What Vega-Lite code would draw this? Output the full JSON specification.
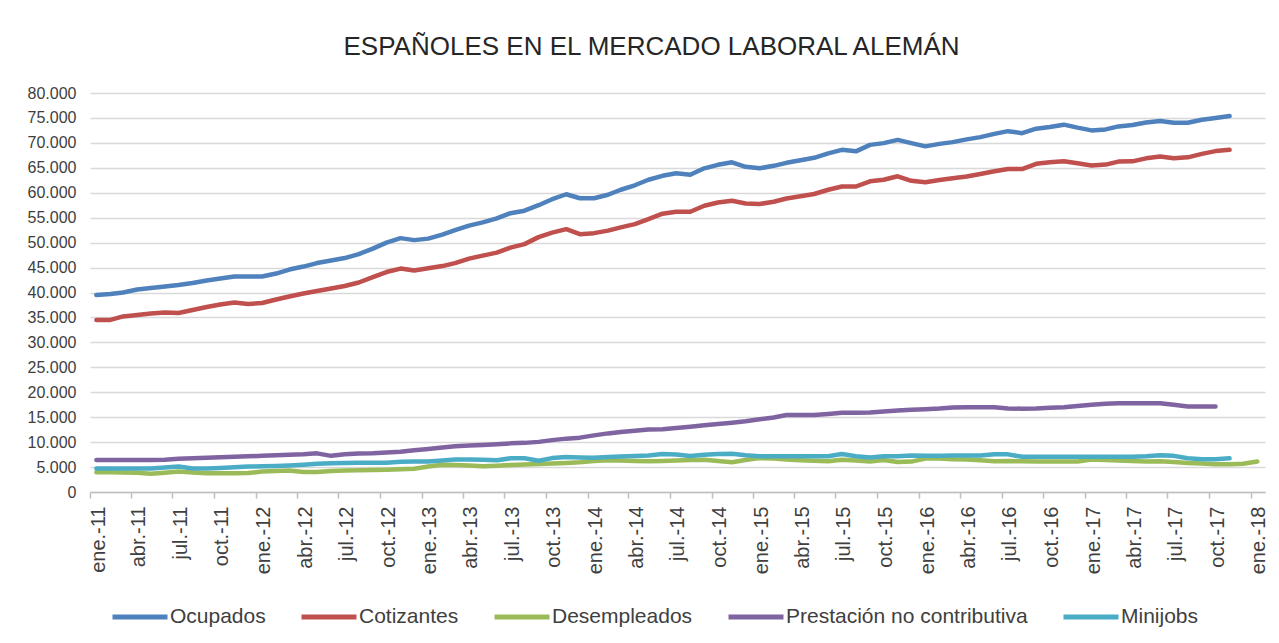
{
  "$schema": "https://vega.github.io/schema/vega-lite/v6.json",
  "width": 1175,
  "height": 399,
  "autosize": {"type": "none"},
  "padding": {"left": 90, "top": 93, "right": 14, "bottom": 151},
  "background": "white",
  "title": {"text": "ESPAÑOLES EN EL MERCADO LABORAL ALEMÁN", "fontSize": 26, "font": "Liberation Sans", "fontWeight": "normal", "color": "#262626", "anchor": "middle", "dx": -26, "offset": 25},
  "config": {"view": {"stroke": null}},
  "data": {
    "format": {"parse": {"mes": "utc:'%Y-%m-%d'"}},
    "values": [
      {"mes":"2011-01-15","serie":"Ocupados","valor":39500},{"mes":"2011-02-15","serie":"Ocupados","valor":39700},{"mes":"2011-03-15","serie":"Ocupados","valor":40000},{"mes":"2011-04-15","serie":"Ocupados","valor":40600},{"mes":"2011-05-15","serie":"Ocupados","valor":40900},{"mes":"2011-06-15","serie":"Ocupados","valor":41200},{"mes":"2011-07-15","serie":"Ocupados","valor":41500},{"mes":"2011-08-15","serie":"Ocupados","valor":41900},{"mes":"2011-09-15","serie":"Ocupados","valor":42400},{"mes":"2011-10-15","serie":"Ocupados","valor":42800},{"mes":"2011-11-15","serie":"Ocupados","valor":43200},{"mes":"2011-12-15","serie":"Ocupados","valor":43200},
      {"mes":"2012-01-15","serie":"Ocupados","valor":43200},{"mes":"2012-02-15","serie":"Ocupados","valor":43800},{"mes":"2012-03-15","serie":"Ocupados","valor":44600},{"mes":"2012-04-15","serie":"Ocupados","valor":45200},{"mes":"2012-05-15","serie":"Ocupados","valor":45900},{"mes":"2012-06-15","serie":"Ocupados","valor":46400},{"mes":"2012-07-15","serie":"Ocupados","valor":46900},{"mes":"2012-08-15","serie":"Ocupados","valor":47700},{"mes":"2012-09-15","serie":"Ocupados","valor":48800},{"mes":"2012-10-15","serie":"Ocupados","valor":50000},{"mes":"2012-11-15","serie":"Ocupados","valor":50900},{"mes":"2012-12-15","serie":"Ocupados","valor":50500},
      {"mes":"2013-01-15","serie":"Ocupados","valor":50800},{"mes":"2013-02-15","serie":"Ocupados","valor":51600},{"mes":"2013-03-15","serie":"Ocupados","valor":52500},{"mes":"2013-04-15","serie":"Ocupados","valor":53400},{"mes":"2013-05-15","serie":"Ocupados","valor":54050},{"mes":"2013-06-15","serie":"Ocupados","valor":54850},{"mes":"2013-07-15","serie":"Ocupados","valor":55900},{"mes":"2013-08-15","serie":"Ocupados","valor":56400},{"mes":"2013-09-15","serie":"Ocupados","valor":57500},{"mes":"2013-10-15","serie":"Ocupados","valor":58700},{"mes":"2013-11-15","serie":"Ocupados","valor":59700},{"mes":"2013-12-15","serie":"Ocupados","valor":58900},
      {"mes":"2014-01-15","serie":"Ocupados","valor":58900},{"mes":"2014-02-15","serie":"Ocupados","valor":59600},{"mes":"2014-03-15","serie":"Ocupados","valor":60600},{"mes":"2014-04-15","serie":"Ocupados","valor":61500},{"mes":"2014-05-15","serie":"Ocupados","valor":62600},{"mes":"2014-06-15","serie":"Ocupados","valor":63400},{"mes":"2014-07-15","serie":"Ocupados","valor":63900},{"mes":"2014-08-15","serie":"Ocupados","valor":63600},{"mes":"2014-09-15","serie":"Ocupados","valor":64900},{"mes":"2014-10-15","serie":"Ocupados","valor":65600},{"mes":"2014-11-15","serie":"Ocupados","valor":66100},{"mes":"2014-12-15","serie":"Ocupados","valor":65200},
      {"mes":"2015-01-15","serie":"Ocupados","valor":64900},{"mes":"2015-02-15","serie":"Ocupados","valor":65400},{"mes":"2015-03-15","serie":"Ocupados","valor":66000},{"mes":"2015-04-15","serie":"Ocupados","valor":66500},{"mes":"2015-05-15","serie":"Ocupados","valor":67000},{"mes":"2015-06-15","serie":"Ocupados","valor":67900},{"mes":"2015-07-15","serie":"Ocupados","valor":68600},{"mes":"2015-08-15","serie":"Ocupados","valor":68300},{"mes":"2015-09-15","serie":"Ocupados","valor":69600},{"mes":"2015-10-15","serie":"Ocupados","valor":69950},{"mes":"2015-11-15","serie":"Ocupados","valor":70600},{"mes":"2015-12-15","serie":"Ocupados","valor":69950},
      {"mes":"2016-01-15","serie":"Ocupados","valor":69300},{"mes":"2016-02-15","serie":"Ocupados","valor":69800},{"mes":"2016-03-15","serie":"Ocupados","valor":70150},{"mes":"2016-04-15","serie":"Ocupados","valor":70700},{"mes":"2016-05-15","serie":"Ocupados","valor":71150},{"mes":"2016-06-15","serie":"Ocupados","valor":71800},{"mes":"2016-07-15","serie":"Ocupados","valor":72350},{"mes":"2016-08-15","serie":"Ocupados","valor":71950},{"mes":"2016-09-15","serie":"Ocupados","valor":72850},{"mes":"2016-10-15","serie":"Ocupados","valor":73200},{"mes":"2016-11-15","serie":"Ocupados","valor":73650},{"mes":"2016-12-15","serie":"Ocupados","valor":73050},
      {"mes":"2017-01-15","serie":"Ocupados","valor":72500},{"mes":"2017-02-15","serie":"Ocupados","valor":72700},{"mes":"2017-03-15","serie":"Ocupados","valor":73300},{"mes":"2017-04-15","serie":"Ocupados","valor":73600},{"mes":"2017-05-15","serie":"Ocupados","valor":74100},{"mes":"2017-06-15","serie":"Ocupados","valor":74400},{"mes":"2017-07-15","serie":"Ocupados","valor":74050},{"mes":"2017-08-15","serie":"Ocupados","valor":74050},{"mes":"2017-09-15","serie":"Ocupados","valor":74650},{"mes":"2017-10-15","serie":"Ocupados","valor":75000},{"mes":"2017-11-15","serie":"Ocupados","valor":75400},

      {"mes":"2011-01-15","serie":"Cotizantes","valor":34500},{"mes":"2011-02-15","serie":"Cotizantes","valor":34500},{"mes":"2011-03-15","serie":"Cotizantes","valor":35200},{"mes":"2011-04-15","serie":"Cotizantes","valor":35500},{"mes":"2011-05-15","serie":"Cotizantes","valor":35800},{"mes":"2011-06-15","serie":"Cotizantes","valor":36000},{"mes":"2011-07-15","serie":"Cotizantes","valor":35900},{"mes":"2011-08-15","serie":"Cotizantes","valor":36500},{"mes":"2011-09-15","serie":"Cotizantes","valor":37100},{"mes":"2011-10-15","serie":"Cotizantes","valor":37600},{"mes":"2011-11-15","serie":"Cotizantes","valor":38000},{"mes":"2011-12-15","serie":"Cotizantes","valor":37700},
      {"mes":"2012-01-15","serie":"Cotizantes","valor":37900},{"mes":"2012-02-15","serie":"Cotizantes","valor":38600},{"mes":"2012-03-15","serie":"Cotizantes","valor":39200},{"mes":"2012-04-15","serie":"Cotizantes","valor":39800},{"mes":"2012-05-15","serie":"Cotizantes","valor":40300},{"mes":"2012-06-15","serie":"Cotizantes","valor":40800},{"mes":"2012-07-15","serie":"Cotizantes","valor":41300},{"mes":"2012-08-15","serie":"Cotizantes","valor":42000},{"mes":"2012-09-15","serie":"Cotizantes","valor":43100},{"mes":"2012-10-15","serie":"Cotizantes","valor":44100},{"mes":"2012-11-15","serie":"Cotizantes","valor":44800},{"mes":"2012-12-15","serie":"Cotizantes","valor":44400},
      {"mes":"2013-01-15","serie":"Cotizantes","valor":44850},{"mes":"2013-02-15","serie":"Cotizantes","valor":45300},{"mes":"2013-03-15","serie":"Cotizantes","valor":45900},{"mes":"2013-04-15","serie":"Cotizantes","valor":46800},{"mes":"2013-05-15","serie":"Cotizantes","valor":47400},{"mes":"2013-06-15","serie":"Cotizantes","valor":48000},{"mes":"2013-07-15","serie":"Cotizantes","valor":49000},{"mes":"2013-08-15","serie":"Cotizantes","valor":49700},{"mes":"2013-09-15","serie":"Cotizantes","valor":51100},{"mes":"2013-10-15","serie":"Cotizantes","valor":52000},{"mes":"2013-11-15","serie":"Cotizantes","valor":52700},{"mes":"2013-12-15","serie":"Cotizantes","valor":51700},
      {"mes":"2014-01-15","serie":"Cotizantes","valor":51900},{"mes":"2014-02-15","serie":"Cotizantes","valor":52400},{"mes":"2014-03-15","serie":"Cotizantes","valor":53050},{"mes":"2014-04-15","serie":"Cotizantes","valor":53700},{"mes":"2014-05-15","serie":"Cotizantes","valor":54700},{"mes":"2014-06-15","serie":"Cotizantes","valor":55800},{"mes":"2014-07-15","serie":"Cotizantes","valor":56200},{"mes":"2014-08-15","serie":"Cotizantes","valor":56200},{"mes":"2014-09-15","serie":"Cotizantes","valor":57400},{"mes":"2014-10-15","serie":"Cotizantes","valor":58050},{"mes":"2014-11-15","serie":"Cotizantes","valor":58400},{"mes":"2014-12-15","serie":"Cotizantes","valor":57850},
      {"mes":"2015-01-15","serie":"Cotizantes","valor":57750},{"mes":"2015-02-15","serie":"Cotizantes","valor":58200},{"mes":"2015-03-15","serie":"Cotizantes","valor":58850},{"mes":"2015-04-15","serie":"Cotizantes","valor":59300},{"mes":"2015-05-15","serie":"Cotizantes","valor":59750},{"mes":"2015-06-15","serie":"Cotizantes","valor":60600},{"mes":"2015-07-15","serie":"Cotizantes","valor":61250},{"mes":"2015-08-15","serie":"Cotizantes","valor":61250},{"mes":"2015-09-15","serie":"Cotizantes","valor":62300},{"mes":"2015-10-15","serie":"Cotizantes","valor":62600},{"mes":"2015-11-15","serie":"Cotizantes","valor":63300},{"mes":"2015-12-15","serie":"Cotizantes","valor":62400},
      {"mes":"2016-01-15","serie":"Cotizantes","valor":62100},{"mes":"2016-02-15","serie":"Cotizantes","valor":62550},{"mes":"2016-03-15","serie":"Cotizantes","valor":62900},{"mes":"2016-04-15","serie":"Cotizantes","valor":63250},{"mes":"2016-05-15","serie":"Cotizantes","valor":63750},{"mes":"2016-06-15","serie":"Cotizantes","valor":64300},{"mes":"2016-07-15","serie":"Cotizantes","valor":64750},{"mes":"2016-08-15","serie":"Cotizantes","valor":64750},{"mes":"2016-09-15","serie":"Cotizantes","valor":65800},{"mes":"2016-10-15","serie":"Cotizantes","valor":66100},{"mes":"2016-11-15","serie":"Cotizantes","valor":66300},{"mes":"2016-12-15","serie":"Cotizantes","valor":65900},
      {"mes":"2017-01-15","serie":"Cotizantes","valor":65450},{"mes":"2017-02-15","serie":"Cotizantes","valor":65650},{"mes":"2017-03-15","serie":"Cotizantes","valor":66250},{"mes":"2017-04-15","serie":"Cotizantes","valor":66300},{"mes":"2017-05-15","serie":"Cotizantes","valor":66900},{"mes":"2017-06-15","serie":"Cotizantes","valor":67250},{"mes":"2017-07-15","serie":"Cotizantes","valor":66900},{"mes":"2017-08-15","serie":"Cotizantes","valor":67100},{"mes":"2017-09-15","serie":"Cotizantes","valor":67800},{"mes":"2017-10-15","serie":"Cotizantes","valor":68350},{"mes":"2017-11-15","serie":"Cotizantes","valor":68600},

      {"mes":"2011-01-15","serie":"Desempleados","valor":3950},{"mes":"2011-02-15","serie":"Desempleados","valor":3950},{"mes":"2011-03-15","serie":"Desempleados","valor":3900},{"mes":"2011-04-15","serie":"Desempleados","valor":3850},{"mes":"2011-05-15","serie":"Desempleados","valor":3650},{"mes":"2011-06-15","serie":"Desempleados","valor":3850},{"mes":"2011-07-15","serie":"Desempleados","valor":4100},{"mes":"2011-08-15","serie":"Desempleados","valor":3900},{"mes":"2011-09-15","serie":"Desempleados","valor":3750},{"mes":"2011-10-15","serie":"Desempleados","valor":3750},{"mes":"2011-11-15","serie":"Desempleados","valor":3750},{"mes":"2011-12-15","serie":"Desempleados","valor":3800},
      {"mes":"2012-01-15","serie":"Desempleados","valor":4100},{"mes":"2012-02-15","serie":"Desempleados","valor":4200},{"mes":"2012-03-15","serie":"Desempleados","valor":4300},{"mes":"2012-04-15","serie":"Desempleados","valor":4000},{"mes":"2012-05-15","serie":"Desempleados","valor":4000},{"mes":"2012-06-15","serie":"Desempleados","valor":4200},{"mes":"2012-07-15","serie":"Desempleados","valor":4300},{"mes":"2012-08-15","serie":"Desempleados","valor":4350},{"mes":"2012-09-15","serie":"Desempleados","valor":4400},{"mes":"2012-10-15","serie":"Desempleados","valor":4450},{"mes":"2012-11-15","serie":"Desempleados","valor":4550},{"mes":"2012-12-15","serie":"Desempleados","valor":4650},
      {"mes":"2013-01-15","serie":"Desempleados","valor":5100},{"mes":"2013-02-15","serie":"Desempleados","valor":5450},{"mes":"2013-03-15","serie":"Desempleados","valor":5400},{"mes":"2013-04-15","serie":"Desempleados","valor":5300},{"mes":"2013-05-15","serie":"Desempleados","valor":5150},{"mes":"2013-06-15","serie":"Desempleados","valor":5250},{"mes":"2013-07-15","serie":"Desempleados","valor":5400},{"mes":"2013-08-15","serie":"Desempleados","valor":5500},{"mes":"2013-09-15","serie":"Desempleados","valor":5600},{"mes":"2013-10-15","serie":"Desempleados","valor":5700},{"mes":"2013-11-15","serie":"Desempleados","valor":5800},{"mes":"2013-12-15","serie":"Desempleados","valor":5950},
      {"mes":"2014-01-15","serie":"Desempleados","valor":6200},{"mes":"2014-02-15","serie":"Desempleados","valor":6350},{"mes":"2014-03-15","serie":"Desempleados","valor":6300},{"mes":"2014-04-15","serie":"Desempleados","valor":6200},{"mes":"2014-05-15","serie":"Desempleados","valor":6150},{"mes":"2014-06-15","serie":"Desempleados","valor":6200},{"mes":"2014-07-15","serie":"Desempleados","valor":6300},{"mes":"2014-08-15","serie":"Desempleados","valor":6400},{"mes":"2014-09-15","serie":"Desempleados","valor":6450},{"mes":"2014-10-15","serie":"Desempleados","valor":6200},{"mes":"2014-11-15","serie":"Desempleados","valor":5950},{"mes":"2014-12-15","serie":"Desempleados","valor":6400},
      {"mes":"2015-01-15","serie":"Desempleados","valor":6800},{"mes":"2015-02-15","serie":"Desempleados","valor":6700},{"mes":"2015-03-15","serie":"Desempleados","valor":6500},{"mes":"2015-04-15","serie":"Desempleados","valor":6350},{"mes":"2015-05-15","serie":"Desempleados","valor":6250},{"mes":"2015-06-15","serie":"Desempleados","valor":6150},{"mes":"2015-07-15","serie":"Desempleados","valor":6450},{"mes":"2015-08-15","serie":"Desempleados","valor":6300},{"mes":"2015-09-15","serie":"Desempleados","valor":6100},{"mes":"2015-10-15","serie":"Desempleados","valor":6400},{"mes":"2015-11-15","serie":"Desempleados","valor":6000},{"mes":"2015-12-15","serie":"Desempleados","valor":6100},
      {"mes":"2016-01-15","serie":"Desempleados","valor":6700},{"mes":"2016-02-15","serie":"Desempleados","valor":6700},{"mes":"2016-03-15","serie":"Desempleados","valor":6550},{"mes":"2016-04-15","serie":"Desempleados","valor":6500},{"mes":"2016-05-15","serie":"Desempleados","valor":6350},{"mes":"2016-06-15","serie":"Desempleados","valor":6150},{"mes":"2016-07-15","serie":"Desempleados","valor":6200},{"mes":"2016-08-15","serie":"Desempleados","valor":6150},{"mes":"2016-09-15","serie":"Desempleados","valor":6100},{"mes":"2016-10-15","serie":"Desempleados","valor":6100},{"mes":"2016-11-15","serie":"Desempleados","valor":6100},{"mes":"2016-12-15","serie":"Desempleados","valor":6100},
      {"mes":"2017-01-15","serie":"Desempleados","valor":6500},{"mes":"2017-02-15","serie":"Desempleados","valor":6400},{"mes":"2017-03-15","serie":"Desempleados","valor":6300},{"mes":"2017-04-15","serie":"Desempleados","valor":6200},{"mes":"2017-05-15","serie":"Desempleados","valor":6100},{"mes":"2017-06-15","serie":"Desempleados","valor":6150},{"mes":"2017-07-15","serie":"Desempleados","valor":6000},{"mes":"2017-08-15","serie":"Desempleados","valor":5800},{"mes":"2017-09-15","serie":"Desempleados","valor":5700},{"mes":"2017-10-15","serie":"Desempleados","valor":5550},{"mes":"2017-11-15","serie":"Desempleados","valor":5550},{"mes":"2017-12-15","serie":"Desempleados","valor":5650},{"mes":"2018-01-15","serie":"Desempleados","valor":6100},

      {"mes":"2011-01-15","serie":"Prestación no contributiva","valor":6400},{"mes":"2011-02-15","serie":"Prestación no contributiva","valor":6400},{"mes":"2011-03-15","serie":"Prestación no contributiva","valor":6400},{"mes":"2011-04-15","serie":"Prestación no contributiva","valor":6400},{"mes":"2011-05-15","serie":"Prestación no contributiva","valor":6400},{"mes":"2011-06-15","serie":"Prestación no contributiva","valor":6450},{"mes":"2011-07-15","serie":"Prestación no contributiva","valor":6650},{"mes":"2011-08-15","serie":"Prestación no contributiva","valor":6750},{"mes":"2011-09-15","serie":"Prestación no contributiva","valor":6850},{"mes":"2011-10-15","serie":"Prestación no contributiva","valor":6950},{"mes":"2011-11-15","serie":"Prestación no contributiva","valor":7050},{"mes":"2011-12-15","serie":"Prestación no contributiva","valor":7150},
      {"mes":"2012-01-15","serie":"Prestación no contributiva","valor":7250},{"mes":"2012-02-15","serie":"Prestación no contributiva","valor":7350},{"mes":"2012-03-15","serie":"Prestación no contributiva","valor":7450},{"mes":"2012-04-15","serie":"Prestación no contributiva","valor":7550},{"mes":"2012-05-15","serie":"Prestación no contributiva","valor":7750},{"mes":"2012-06-15","serie":"Prestación no contributiva","valor":7250},{"mes":"2012-07-15","serie":"Prestación no contributiva","valor":7550},{"mes":"2012-08-15","serie":"Prestación no contributiva","valor":7700},{"mes":"2012-09-15","serie":"Prestación no contributiva","valor":7750},{"mes":"2012-10-15","serie":"Prestación no contributiva","valor":7900},{"mes":"2012-11-15","serie":"Prestación no contributiva","valor":8050},{"mes":"2012-12-15","serie":"Prestación no contributiva","valor":8350},
      {"mes":"2013-01-15","serie":"Prestación no contributiva","valor":8600},{"mes":"2013-02-15","serie":"Prestación no contributiva","valor":8900},{"mes":"2013-03-15","serie":"Prestación no contributiva","valor":9150},{"mes":"2013-04-15","serie":"Prestación no contributiva","valor":9300},{"mes":"2013-05-15","serie":"Prestación no contributiva","valor":9400},{"mes":"2013-06-15","serie":"Prestación no contributiva","valor":9550},{"mes":"2013-07-15","serie":"Prestación no contributiva","valor":9750},{"mes":"2013-08-15","serie":"Prestación no contributiva","valor":9850},{"mes":"2013-09-15","serie":"Prestación no contributiva","valor":10050},{"mes":"2013-10-15","serie":"Prestación no contributiva","valor":10400},{"mes":"2013-11-15","serie":"Prestación no contributiva","valor":10700},{"mes":"2013-12-15","serie":"Prestación no contributiva","valor":10900},
      {"mes":"2014-01-15","serie":"Prestación no contributiva","valor":11350},{"mes":"2014-02-15","serie":"Prestación no contributiva","valor":11750},{"mes":"2014-03-15","serie":"Prestación no contributiva","valor":12050},{"mes":"2014-04-15","serie":"Prestación no contributiva","valor":12300},{"mes":"2014-05-15","serie":"Prestación no contributiva","valor":12550},{"mes":"2014-06-15","serie":"Prestación no contributiva","valor":12600},{"mes":"2014-07-15","serie":"Prestación no contributiva","valor":12850},{"mes":"2014-08-15","serie":"Prestación no contributiva","valor":13100},{"mes":"2014-09-15","serie":"Prestación no contributiva","valor":13400},{"mes":"2014-10-15","serie":"Prestación no contributiva","valor":13650},{"mes":"2014-11-15","serie":"Prestación no contributiva","valor":13900},{"mes":"2014-12-15","serie":"Prestación no contributiva","valor":14200},
      {"mes":"2015-01-15","serie":"Prestación no contributiva","valor":14600},{"mes":"2015-02-15","serie":"Prestación no contributiva","valor":14950},{"mes":"2015-03-15","serie":"Prestación no contributiva","valor":15450},{"mes":"2015-04-15","serie":"Prestación no contributiva","valor":15450},{"mes":"2015-05-15","serie":"Prestación no contributiva","valor":15450},{"mes":"2015-06-15","serie":"Prestación no contributiva","valor":15650},{"mes":"2015-07-15","serie":"Prestación no contributiva","valor":15900},{"mes":"2015-08-15","serie":"Prestación no contributiva","valor":15900},{"mes":"2015-09-15","serie":"Prestación no contributiva","valor":15950},{"mes":"2015-10-15","serie":"Prestación no contributiva","valor":16150},{"mes":"2015-11-15","serie":"Prestación no contributiva","valor":16350},{"mes":"2015-12-15","serie":"Prestación no contributiva","valor":16500},
      {"mes":"2016-01-15","serie":"Prestación no contributiva","valor":16600},{"mes":"2016-02-15","serie":"Prestación no contributiva","valor":16750},{"mes":"2016-03-15","serie":"Prestación no contributiva","valor":16950},{"mes":"2016-04-15","serie":"Prestación no contributiva","valor":17000},{"mes":"2016-05-15","serie":"Prestación no contributiva","valor":17000},{"mes":"2016-06-15","serie":"Prestación no contributiva","valor":17000},{"mes":"2016-07-15","serie":"Prestación no contributiva","valor":16750},{"mes":"2016-08-15","serie":"Prestación no contributiva","valor":16700},{"mes":"2016-09-15","serie":"Prestación no contributiva","valor":16750},{"mes":"2016-10-15","serie":"Prestación no contributiva","valor":16900},{"mes":"2016-11-15","serie":"Prestación no contributiva","valor":17000},{"mes":"2016-12-15","serie":"Prestación no contributiva","valor":17250},
      {"mes":"2017-01-15","serie":"Prestación no contributiva","valor":17500},{"mes":"2017-02-15","serie":"Prestación no contributiva","valor":17700},{"mes":"2017-03-15","serie":"Prestación no contributiva","valor":17800},{"mes":"2017-04-15","serie":"Prestación no contributiva","valor":17800},{"mes":"2017-05-15","serie":"Prestación no contributiva","valor":17800},{"mes":"2017-06-15","serie":"Prestación no contributiva","valor":17800},{"mes":"2017-07-15","serie":"Prestación no contributiva","valor":17500},{"mes":"2017-08-15","serie":"Prestación no contributiva","valor":17150},{"mes":"2017-09-15","serie":"Prestación no contributiva","valor":17150},{"mes":"2017-10-15","serie":"Prestación no contributiva","valor":17150},

      {"mes":"2011-01-15","serie":"Minijobs","valor":4700},{"mes":"2011-02-15","serie":"Minijobs","valor":4700},{"mes":"2011-03-15","serie":"Minijobs","valor":4700},{"mes":"2011-04-15","serie":"Minijobs","valor":4700},{"mes":"2011-05-15","serie":"Minijobs","valor":4700},{"mes":"2011-06-15","serie":"Minijobs","valor":4900},{"mes":"2011-07-15","serie":"Minijobs","valor":5100},{"mes":"2011-08-15","serie":"Minijobs","valor":4700},{"mes":"2011-09-15","serie":"Minijobs","valor":4700},{"mes":"2011-10-15","serie":"Minijobs","valor":4800},{"mes":"2011-11-15","serie":"Minijobs","valor":4950},{"mes":"2011-12-15","serie":"Minijobs","valor":5100},
      {"mes":"2012-01-15","serie":"Minijobs","valor":5150},{"mes":"2012-02-15","serie":"Minijobs","valor":5200},{"mes":"2012-03-15","serie":"Minijobs","valor":5300},{"mes":"2012-04-15","serie":"Minijobs","valor":5450},{"mes":"2012-05-15","serie":"Minijobs","valor":5650},{"mes":"2012-06-15","serie":"Minijobs","valor":5750},{"mes":"2012-07-15","serie":"Minijobs","valor":5800},{"mes":"2012-08-15","serie":"Minijobs","valor":5850},{"mes":"2012-09-15","serie":"Minijobs","valor":5850},{"mes":"2012-10-15","serie":"Minijobs","valor":5850},{"mes":"2012-11-15","serie":"Minijobs","valor":6050},{"mes":"2012-12-15","serie":"Minijobs","valor":6100},
      {"mes":"2013-01-15","serie":"Minijobs","valor":6100},{"mes":"2013-02-15","serie":"Minijobs","valor":6300},{"mes":"2013-03-15","serie":"Minijobs","valor":6500},{"mes":"2013-04-15","serie":"Minijobs","valor":6500},{"mes":"2013-05-15","serie":"Minijobs","valor":6450},{"mes":"2013-06-15","serie":"Minijobs","valor":6350},{"mes":"2013-07-15","serie":"Minijobs","valor":6750},{"mes":"2013-08-15","serie":"Minijobs","valor":6750},{"mes":"2013-09-15","serie":"Minijobs","valor":6250},{"mes":"2013-10-15","serie":"Minijobs","valor":6800},{"mes":"2013-11-15","serie":"Minijobs","valor":7000},{"mes":"2013-12-15","serie":"Minijobs","valor":6900},
      {"mes":"2014-01-15","serie":"Minijobs","valor":6850},{"mes":"2014-02-15","serie":"Minijobs","valor":7000},{"mes":"2014-03-15","serie":"Minijobs","valor":7100},{"mes":"2014-04-15","serie":"Minijobs","valor":7200},{"mes":"2014-05-15","serie":"Minijobs","valor":7300},{"mes":"2014-06-15","serie":"Minijobs","valor":7600},{"mes":"2014-07-15","serie":"Minijobs","valor":7500},{"mes":"2014-08-15","serie":"Minijobs","valor":7200},{"mes":"2014-09-15","serie":"Minijobs","valor":7450},{"mes":"2014-10-15","serie":"Minijobs","valor":7600},{"mes":"2014-11-15","serie":"Minijobs","valor":7650},{"mes":"2014-12-15","serie":"Minijobs","valor":7350},
      {"mes":"2015-01-15","serie":"Minijobs","valor":7150},{"mes":"2015-02-15","serie":"Minijobs","valor":7150},{"mes":"2015-03-15","serie":"Minijobs","valor":7150},{"mes":"2015-04-15","serie":"Minijobs","valor":7150},{"mes":"2015-05-15","serie":"Minijobs","valor":7150},{"mes":"2015-06-15","serie":"Minijobs","valor":7150},{"mes":"2015-07-15","serie":"Minijobs","valor":7600},{"mes":"2015-08-15","serie":"Minijobs","valor":7150},{"mes":"2015-09-15","serie":"Minijobs","valor":6900},{"mes":"2015-10-15","serie":"Minijobs","valor":7150},{"mes":"2015-11-15","serie":"Minijobs","valor":7150},{"mes":"2015-12-15","serie":"Minijobs","valor":7300},
      {"mes":"2016-01-15","serie":"Minijobs","valor":7250},{"mes":"2016-02-15","serie":"Minijobs","valor":7250},{"mes":"2016-03-15","serie":"Minijobs","valor":7300},{"mes":"2016-04-15","serie":"Minijobs","valor":7300},{"mes":"2016-05-15","serie":"Minijobs","valor":7300},{"mes":"2016-06-15","serie":"Minijobs","valor":7550},{"mes":"2016-07-15","serie":"Minijobs","valor":7550},{"mes":"2016-08-15","serie":"Minijobs","valor":7050},{"mes":"2016-09-15","serie":"Minijobs","valor":7050},{"mes":"2016-10-15","serie":"Minijobs","valor":7050},{"mes":"2016-11-15","serie":"Minijobs","valor":7050},{"mes":"2016-12-15","serie":"Minijobs","valor":7050},
      {"mes":"2017-01-15","serie":"Minijobs","valor":7050},{"mes":"2017-02-15","serie":"Minijobs","valor":7050},{"mes":"2017-03-15","serie":"Minijobs","valor":7050},{"mes":"2017-04-15","serie":"Minijobs","valor":7050},{"mes":"2017-05-15","serie":"Minijobs","valor":7150},{"mes":"2017-06-15","serie":"Minijobs","valor":7350},{"mes":"2017-07-15","serie":"Minijobs","valor":7250},{"mes":"2017-08-15","serie":"Minijobs","valor":6750},{"mes":"2017-09-15","serie":"Minijobs","valor":6550},{"mes":"2017-10-15","serie":"Minijobs","valor":6550},{"mes":"2017-11-15","serie":"Minijobs","valor":6750}
    ]
  },
  "mark": {"type": "line", "strokeWidth": 4.5, "strokeCap": "round", "strokeJoin": "round"},
  "encoding": {
    "x": {
      "field": "mes", "type": "temporal",
      "scale": {"type": "utc", "domain": [{"year": 2011, "month": 1, "date": 1, "utc": true}, {"year": 2018, "month": 2, "date": 1, "utc": true}]},
      "axis": {
        "title": null, "grid": false,
        "values": [
          {"year":2011,"month":1,"date":1,"utc":true},{"year":2011,"month":4,"date":1,"utc":true},{"year":2011,"month":7,"date":1,"utc":true},{"year":2011,"month":10,"date":1,"utc":true},
          {"year":2012,"month":1,"date":1,"utc":true},{"year":2012,"month":4,"date":1,"utc":true},{"year":2012,"month":7,"date":1,"utc":true},{"year":2012,"month":10,"date":1,"utc":true},
          {"year":2013,"month":1,"date":1,"utc":true},{"year":2013,"month":4,"date":1,"utc":true},{"year":2013,"month":7,"date":1,"utc":true},{"year":2013,"month":10,"date":1,"utc":true},
          {"year":2014,"month":1,"date":1,"utc":true},{"year":2014,"month":4,"date":1,"utc":true},{"year":2014,"month":7,"date":1,"utc":true},{"year":2014,"month":10,"date":1,"utc":true},
          {"year":2015,"month":1,"date":1,"utc":true},{"year":2015,"month":4,"date":1,"utc":true},{"year":2015,"month":7,"date":1,"utc":true},{"year":2015,"month":10,"date":1,"utc":true},
          {"year":2016,"month":1,"date":1,"utc":true},{"year":2016,"month":4,"date":1,"utc":true},{"year":2016,"month":7,"date":1,"utc":true},{"year":2016,"month":10,"date":1,"utc":true},
          {"year":2017,"month":1,"date":1,"utc":true},{"year":2017,"month":4,"date":1,"utc":true},{"year":2017,"month":7,"date":1,"utc":true},{"year":2017,"month":10,"date":1,"utc":true},
          {"year":2018,"month":1,"date":1,"utc":true}
        ],
        "labelExpr": "['ene.','feb.','mar.','abr.','may.','jun.','jul.','ago.','sep.','oct.','nov.','dic.'][utcmonth(datum.value)] + '-' + utcFormat(datum.value, '%y')",
        "labelAngle": 270, "labelAlign": "right", "labelBaseline": "middle",
        "labelFont": "Liberation Sans", "labelFontSize": 20, "labelColor": "#404040",
        "labelPadding": 8, "labelOffset": 8, "labelOverlap": false, "labelFlush": false, "labelBound": false,
        "tickSize": 6, "tickColor": "#BFBFBF", "domainColor": "#BFBFBF", "domainWidth": 1.5, "tickWidth": 1.5
      }
    },
    "y": {
      "field": "valor", "type": "quantitative",
      "scale": {"domain": [0, 80000], "nice": false},
      "axis": {
        "title": null, "domain": false, "ticks": false,
        "values": [0,5000,10000,15000,20000,25000,30000,35000,40000,45000,50000,55000,60000,65000,70000,75000,80000],
        "labelExpr": "replace(format(datum.value, ','), ',', '.')",
        "labelFont": "Liberation Sans", "labelFontSize": 16, "labelColor": "#404040", "labelPadding": 14,
        "gridColor": "#D9D9D9", "gridWidth": 1.5
      }
    },
    "color": {
      "field": "serie", "type": "nominal",
      "scale": {
        "domain": ["Ocupados", "Cotizantes", "Desempleados", "Prestación no contributiva", "Minijobs"],
        "range": ["#4F81BD", "#C0504D", "#9BBB59", "#8064A2", "#4BACC6"]
      },
      "legend": {
        "title": null, "orient": "none", "direction": "horizontal", "legendX": 20, "legendY": 494,
        "symbolType": "stroke", "symbolSize": 3025, "symbolStrokeWidth": 5,
        "labelFont": "Liberation Sans", "labelFontSize": 21, "labelColor": "#404040",
        "labelOffset": 0, "columnPadding": 25, "labelLimit": 400
      }
    }
  }
}
